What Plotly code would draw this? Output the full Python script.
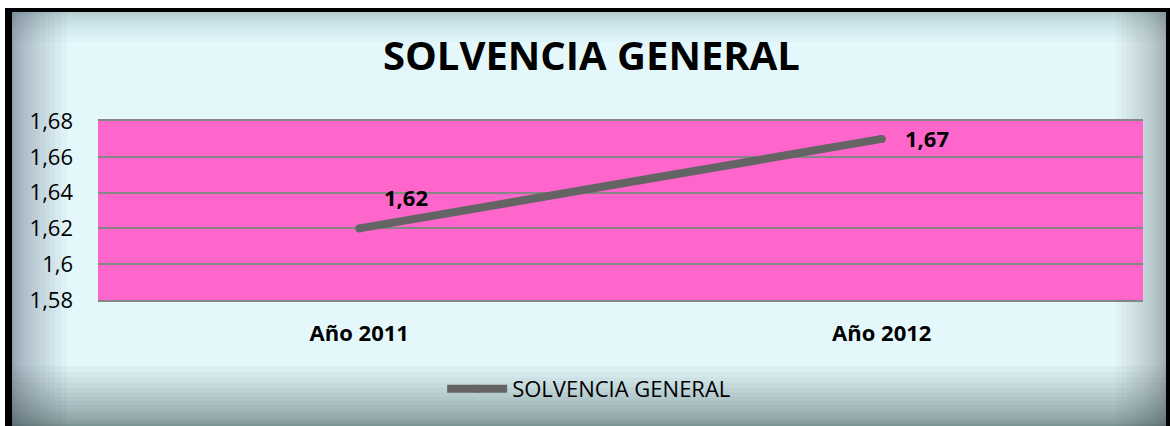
import plotly.graph_objects as go

# Chart data
categories = ["Año 2011", "Año 2012"]
solvencia = [1.62, 1.67]
series_name = "SOLVENCIA GENERAL"
y_tick_values = [1.58, 1.60, 1.62, 1.64, 1.66, 1.68]
y_tick_labels = ["1,58", "1,6", "1,62", "1,64", "1,66", "1,68"]

W, H = 1170, 426
L, R, T, B = 98, 27, 121, 126
PW, PH = W - L - R, H - T - B


def px_x(px):
    return (px - L) / PW


def px_y(py):
    return (H - B - py) / PH


FONT = "Open Sans, sans-serif"

fig = go.Figure()
fig.add_trace(go.Scatter(
    x=categories, y=solvencia, name=series_name,
    mode="lines+markers",
    line=dict(color="#646464", width=8),
    marker=dict(color="#646464", size=8),
    showlegend=True,
))

# value labels next to each point
label_offsets = [(47, 31), (45, 1)]
for cat, val, (dx, dy) in zip(categories, solvencia, label_offsets):
    fig.add_annotation(
        x=cat, y=val, text=f"{val:.2f}".replace(".", ","),
        showarrow=False, xshift=dx, yshift=dy,
        font=dict(family=FONT, size=22, color="black", weight="bold"),
    )

shapes = []
# outer frame and background
shapes.append(dict(type="rect", xref="paper", yref="paper", layer="below",
                   x0=px_x(5), x1=px_x(1172), y0=px_y(8), y1=px_y(430),
                   fillcolor="black", line=dict(width=0)))
shapes.append(dict(type="rect", xref="paper", yref="paper", layer="below",
                   x0=px_x(12), x1=px_x(1166), y0=px_y(12), y1=px_y(430),
                   fillcolor="#E4F8FC", line=dict(width=0)))

# soft shading along the inner edges of the frame
shade = "rgba(55,70,78,{a})"


def edge_glow(side, depth, steps, alpha):
    for k in range(1, steps + 1):
        d = depth * (k / steps) ** 1.8
        if side == "left":
            box = (12, 12 + d, 12, 430)
        elif side == "right":
            box = (1166 - d, 1166, 12, 430)
        elif side == "top":
            box = (12, 1166, 12, 12 + d)
        else:
            box = (12, 1166, 426 - d, 430)
        shapes.append(dict(type="rect", xref="paper", yref="paper", layer="below",
                           x0=px_x(box[0]), x1=px_x(box[1]),
                           y0=px_y(box[2]), y1=px_y(box[3]),
                           fillcolor=shade.format(a=alpha), line=dict(width=0)))


edge_glow("left", 55, 16, 0.035)
edge_glow("right", 50, 16, 0.032)
edge_glow("top", 30, 12, 0.022)
edge_glow("bottom", 60, 18, 0.042)

# plotting area fill
shapes.append(dict(type="rect", xref="paper", yref="paper", layer="below",
                   x0=0, x1=1, y0=0, y1=1,
                   fillcolor="#FF66CC", line=dict(width=0)))

fig.update_layout(
    width=W, height=H,
    margin=dict(l=L, r=R, t=T, b=B),
    paper_bgcolor="white",
    plot_bgcolor="rgba(0,0,0,0)",
    shapes=shapes,
    separators=",.",
    title=dict(text="<b>SOLVENCIA GENERAL</b>", x=0.5055, xanchor="center",
               y=1 - 56 / H, yanchor="middle", yref="container",
               font=dict(family=FONT, size=40, color="black")),
    xaxis=dict(
        type="category", range=[-0.5, 1.5],
        showgrid=False, zeroline=False,
        showline=True, mirror=True, linecolor="#868686", linewidth=2,
        ticks="", ticklabelstandoff=13,
        tickfont=dict(family=FONT, size=22, color="black", weight="bold"),
    ),
    yaxis=dict(
        range=[1.58, 1.68],
        tickvals=y_tick_values, ticktext=y_tick_labels,
        showgrid=True, gridcolor="#868686", gridwidth=2,
        zeroline=False, showline=False,
        ticks="", ticklabelstandoff=24,
        tickfont=dict(family=FONT, size=22, color="black"),
    ),
    legend=dict(
        orientation="h", x=0.47, xanchor="center", y=px_y(389), yanchor="middle",
        bgcolor="rgba(0,0,0,0)", itemwidth=60,
        font=dict(family=FONT, size=22, color="black"),
    ),
    hovermode=False,
)

fig.write_html("out.html")
